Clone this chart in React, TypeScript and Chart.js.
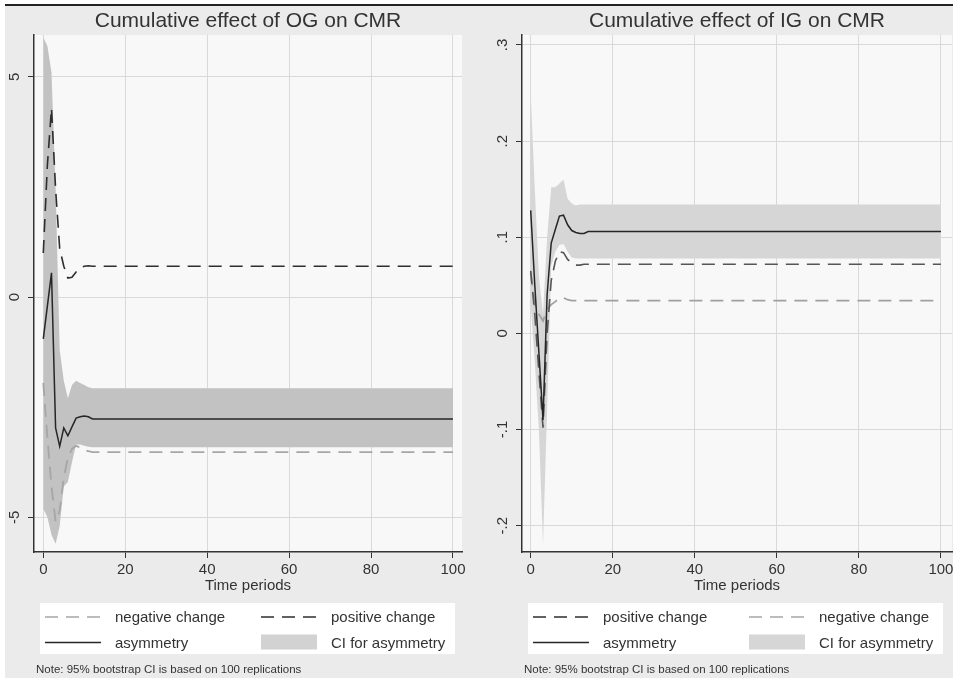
import React, { useEffect, useRef } from "react";
import { Chart, registerables } from "chart.js";

Chart.register(...registerables);

// ---------- data ----------
const periods = [0, 1, 2, 3, 4, 5, 6, 7, 8, 9, 10, 11, 12, 13, 14, 100];
const xTicks = [0, 20, 40, 60, 80, 100];

// Cumulative effect of OG on CMR
const ogPositive = [1.0, 3.0, 4.29, 2.45, 1.1, 0.7, 0.43, 0.45, 0.57, 0.66, 0.7, 0.71, 0.7, 0.7, 0.7, 0.7];
const ogNegative = [-1.95, -3.2, -4.3, -5.1, -4.85, -4.1, -3.65, -3.45, -3.38, -3.42, -3.48, -3.5, -3.52, -3.52, -3.52, -3.52];
const ogAsymmetry = [-0.95, -0.2, 0.55, -2.97, -3.39, -2.97, -3.15, -2.95, -2.75, -2.72, -2.7, -2.72, -2.77, -2.77, -2.77, -2.77];
const ogCiUpper = [5.9, 5.7, 5.1, 2.5, -1.2, -1.9, -2.3, -2.0, -1.9, -1.95, -2.0, -2.05, -2.07, -2.07, -2.07, -2.07];
const ogCiLower = [-4.8, -5.0, -5.4, -5.6, -5.2, -4.3, -4.2, -3.75, -3.35, -3.35, -3.38, -3.4, -3.41, -3.41, -3.41, -3.41];
const ogYTicks = [-5, 0, 5];
const ogYTickLabels = ["-5", "0", "5"];

// Cumulative effect of IG on CMR
const igPositive = [0.065, 0.02, -0.04, -0.098, 0.0, 0.055, 0.075, 0.085, 0.084, 0.077, 0.073, 0.071, 0.071, 0.072, 0.072, 0.072];
const igNegative = [0.063, 0.03, 0.02, 0.013, 0.025, 0.03, 0.033, 0.037, 0.037, 0.035, 0.034, 0.034, 0.034, 0.034, 0.034, 0.034];
const igAsymmetry = [0.128, 0.05, -0.02, -0.09, 0.04, 0.094, 0.108, 0.122, 0.123, 0.113, 0.107, 0.105, 0.104, 0.104, 0.106, 0.106];
const igCiUpper = [0.25, 0.15, 0.06, 0.02, 0.1, 0.152, 0.152, 0.156, 0.16, 0.14, 0.135, 0.133, 0.134, 0.134, 0.134, 0.134];
const igCiLower = [0.03, -0.03, -0.1, -0.22, -0.08, 0.07, 0.085, 0.092, 0.093, 0.085, 0.079, 0.078, 0.078, 0.078, 0.078, 0.078];
const igYTicks = [-0.2, -0.1, 0, 0.1, 0.2, 0.3];
const igYTickLabels = ["-.2", "-.1", "0", ".1", ".2", ".3"];

const noteText = "Note: 95% bootstrap CI is based on 100 replications";

// ---------- styling ----------
const FONT = "'Liberation Sans', Arial, sans-serif";
const TEXT = "#333333";
const DASH = [13, 8];

type LegendItem = { label: string; kind: "line" | "rect"; color: string; dash?: number[] };

type PanelCfg = {
  title: string;
  positive: number[];
  negative: number[];
  asym: number[];
  upper: number[];
  lower: number[];
  yTicks: number[];
  yLabels: string[];
  xMin: number;
  xMax: number;
  yMin: number;
  yMax: number;
  padLeft: number;
  padRight: number;
  posColor: string;
  negColor: string;
  bandColor: string;
  legend: LegendItem[];
};

function pts(ys: number[]) {
  return periods.map((p, i) => ({ x: p, y: ys[i] }));
}

function makePlugin(cfg: PanelCfg) {
  return {
    id: "panelDecor",
    beforeDraw(chart: any) {
      const { ctx, chartArea: a } = chart;
      ctx.save();
      ctx.fillStyle = "#f8f8f8";
      ctx.fillRect(a.left, a.top, a.right - a.left, a.bottom - a.top);
      ctx.restore();
    },
    afterDraw(chart: any) {
      const { ctx, chartArea: a } = chart;
      const cx = (a.left + a.right) / 2;
      ctx.save();
      // title
      ctx.fillStyle = TEXT;
      ctx.font = `21px ${FONT}`;
      ctx.textAlign = "center";
      ctx.textBaseline = "alphabetic";
      ctx.fillText(cfg.title, cx, 27);
      // x axis title
      ctx.font = `15px ${FONT}`;
      ctx.fillText("Time periods", cx, 590);
      // rotated y tick labels
      const ys = chart.scales.y;
      ys.ticks.forEach((t: any, i: number) => {
        const py = ys.getPixelForValue(t.value);
        ctx.save();
        ctx.translate(a.left - 19, py);
        ctx.rotate(-Math.PI / 2);
        ctx.textAlign = "center";
        ctx.textBaseline = "middle";
        ctx.font = `15px ${FONT}`;
        ctx.fillStyle = TEXT;
        ctx.fillText(cfg.yLabels[i], 0, 0);
        ctx.restore();
      });
      // legend box
      const bx = a.left + 6;
      const bw = 415;
      ctx.fillStyle = "#ffffff";
      ctx.fillRect(bx, 603, bw, 51);
      const rows = [617, 642.5];
      const cols = [bx + 5, bx + 221];
      cfg.legend.forEach((it, i) => {
        const col = cols[i % 2];
        const y = rows[Math.floor(i / 2)];
        if (it.kind === "line") {
          ctx.strokeStyle = it.color;
          ctx.lineWidth = 1.6;
          ctx.setLineDash(it.dash || []);
          ctx.beginPath();
          ctx.moveTo(col, y);
          ctx.lineTo(col + 56, y);
          ctx.stroke();
          ctx.setLineDash([]);
        } else {
          ctx.fillStyle = it.color;
          ctx.fillRect(col, y - 8, 56, 15);
        }
        ctx.fillStyle = TEXT;
        ctx.font = `15px ${FONT}`;
        ctx.textAlign = "left";
        ctx.textBaseline = "alphabetic";
        ctx.fillText(it.label, col + 70, y + 5);
      });
      // note
      ctx.font = `11.5px ${FONT}`;
      ctx.fillStyle = TEXT;
      ctx.textAlign = "left";
      ctx.fillText(noteText, a.left + 2, 673);
      ctx.restore();
    },
  };
}

function buildConfig(cfg: PanelCfg): any {
  const gridOpts = { color: "#d9d9d9", lineWidth: 1, tickColor: "#333333", tickLength: 6, drawTicks: true };
  return {
    type: "line",
    data: {
      datasets: [
        { label: "asymmetry", data: pts(cfg.asym), borderColor: "#262626", borderWidth: 1.5, pointRadius: 0, tension: 0, fill: false, order: 0 },
        { label: "positive change", data: pts(cfg.positive), borderColor: cfg.posColor, borderWidth: 1.6, borderDash: DASH, pointRadius: 0, tension: 0, fill: false, order: 1 },
        { label: "negative change", data: pts(cfg.negative), borderColor: cfg.negColor, borderWidth: 1.8, borderDash: DASH, pointRadius: 0, tension: 0, fill: false, order: 2 },
        { label: "CI upper", data: pts(cfg.upper), borderColor: "rgba(0,0,0,0)", borderWidth: 0, backgroundColor: cfg.bandColor, pointRadius: 0, tension: 0, fill: "+1", order: 3 },
        { label: "CI lower", data: pts(cfg.lower), borderColor: "rgba(0,0,0,0)", borderWidth: 0, pointRadius: 0, tension: 0, fill: false, order: 4 },
      ],
    },
    options: {
      responsive: false,
      animation: false,
      devicePixelRatio: 1,
      layout: { padding: { left: cfg.padLeft, right: cfg.padRight, top: 35, bottom: 86 } },
      plugins: { legend: { display: false }, title: { display: false }, tooltip: { enabled: false } },
      scales: {
        x: {
          type: "linear",
          min: cfg.xMin,
          max: cfg.xMax,
          afterBuildTicks: (s: any) => { s.ticks = xTicks.map((v) => ({ value: v })); },
          afterFit: (s: any) => { s.height = 40; },
          grid: gridOpts,
          border: { color: "#333333", width: 1.5 },
          ticks: { color: TEXT, font: { family: FONT, size: 15 }, padding: 3, maxRotation: 0, callback: (v: any) => String(v) },
        },
        y: {
          type: "linear",
          min: cfg.yMin,
          max: cfg.yMax,
          afterBuildTicks: (s: any) => { s.ticks = cfg.yTicks.map((v) => ({ value: v })); },
          afterFit: (s: any) => { s.width = 20; },
          grid: gridOpts,
          border: { color: "#333333", width: 1.5 },
          ticks: { display: false },
        },
      },
    },
    plugins: [makePlugin(cfg)],
  };
}

const ogCfg: PanelCfg = {
  title: "Cumulative effect of OG on CMR",
  positive: ogPositive,
  negative: ogNegative,
  asym: ogAsymmetry,
  upper: ogCiUpper,
  lower: ogCiLower,
  yTicks: ogYTicks,
  yLabels: ogYTickLabels,
  xMin: -2.27,
  xMax: 102.2,
  yMin: -5.79,
  yMax: 5.95,
  padLeft: 14,
  padRight: 17,
  posColor: "#2e2e2e",
  negColor: "#a6a6a6",
  bandColor: "#c2c2c2",
  legend: [
    { label: "negative change", kind: "line", color: "#a6a6a6", dash: DASH },
    { label: "positive change", kind: "line", color: "#2e2e2e", dash: DASH },
    { label: "asymmetry", kind: "line", color: "#262626" },
    { label: "CI for asymmetry", kind: "rect", color: "#d2d2d2" },
  ],
};

const igCfg: PanelCfg = {
  title: "Cumulative effect of IG on CMR",
  positive: igPositive,
  negative: igNegative,
  asym: igAsymmetry,
  upper: igCiUpper,
  lower: igCiLower,
  yTicks: igYTicks,
  yLabels: igYTickLabels,
  xMin: -2.12,
  xMax: 102.7,
  yMin: -0.2274,
  yMax: 0.3104,
  padLeft: 23,
  padRight: 7,
  posColor: "#555555",
  negColor: "#a0a0a0",
  bandColor: "#d6d6d6",
  legend: [
    { label: "positive change", kind: "line", color: "#2e2e2e", dash: DASH },
    { label: "negative change", kind: "line", color: "#a6a6a6", dash: DASH },
    { label: "asymmetry", kind: "line", color: "#262626" },
    { label: "CI for asymmetry", kind: "rect", color: "#d6d6d6" },
  ],
};

function Panel({ cfg, left, width }: { cfg: PanelCfg; left: number; width: number }) {
  const ref = useRef<HTMLCanvasElement>(null);
  useEffect(() => {
    const chart = new Chart(ref.current as HTMLCanvasElement, buildConfig(cfg));
    return () => chart.destroy();
  }, [cfg]);
  return (
    <canvas
      ref={ref}
      width={width}
      height={678}
      style={{ position: "absolute", left, top: 0, width, height: 678 }}
    />
  );
}

export default function App() {
  return (
    <div style={{ position: "absolute", left: 0, top: 0, width: 959, height: 678, background: "#ffffff", overflow: "hidden" }}>
      <div style={{ position: "absolute", left: 5, top: 6, width: 948, height: 672, background: "#ebebeb" }} />
      <div style={{ position: "absolute", left: 5, top: 4, width: 948, height: 2, background: "#222222" }} />
      <Panel cfg={ogCfg} left={0} width={479} />
      <Panel cfg={igCfg} left={479} width={480} />
    </div>
  );
}
